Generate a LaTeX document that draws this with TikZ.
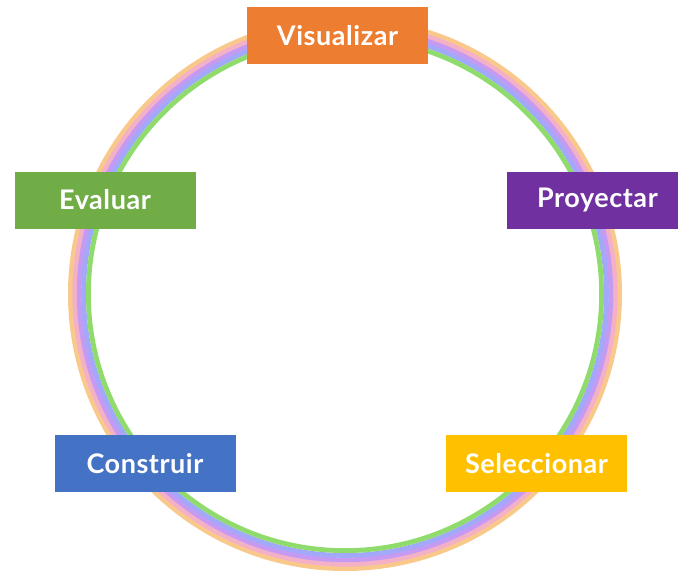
\documentclass[tikz,border=0pt]{standalone}
\usepackage{fontspec}
\setmainfont[LetterSpace=2]{Lato}
\usepackage{tikz}
\usetikzlibrary{positioning}

\definecolor{visorange}{HTML}{ED7D31}
\definecolor{proypurple}{HTML}{7030A0}
\definecolor{evalgreen}{HTML}{70AD47}
\definecolor{consblue}{HTML}{4472C4}
\definecolor{selgold}{HTML}{FFC000}
\definecolor{ringpeach}{HTML}{F9C98C}
\definecolor{ringpink}{HTML}{F3B0C6}
\definecolor{ringlilac}{HTML}{C49AF2}
\definecolor{ringblue}{HTML}{A2A8FA}
\definecolor{ringgreen}{HTML}{8FDB6B}

\tikzset{
    stage/.style = {rectangle, minimum width = 181pt, minimum height = 57pt,
        inner sep = 0pt, text = white, font = \fontsize{27}{30}\selectfont\bfseries},
    band/.style = {line width = 4.8pt},
}

\begin{document}
\begin{tikzpicture}[x = 1pt, y = -1pt]
    \useasboundingbox (0,0) rectangle (678,571);
    \clip (0,0) rectangle (678,571);
    \coordinate (c) at (345,294);
    % ring, outside to inside
    \draw[band, ringpeach] (c) circle (274.6pt);
    \draw[band, ringpink] (c) circle (270.2pt);
    \draw[band, ringlilac] (c) circle (265.8pt);
    \draw[band, ringblue] (c) circle (261.4pt);
    \draw[band, ringgreen] (c) circle (256.6pt);
    % stages
    \node[stage, fill = visorange] (vis) at (337.5,35.5) {Visualizar};
    \node[stage, fill = proypurple] (proy) at (597.5,200) {Proyectar};
    \node[stage, fill = evalgreen] (eval) at (105,200) {Evaluar};
    \node[stage, fill = consblue] (cons) at (145,463.5) {Construir};
    \node[stage, fill = selgold] (sel) at (536.5,463.5) {Seleccionar};
\end{tikzpicture}
\end{document}
